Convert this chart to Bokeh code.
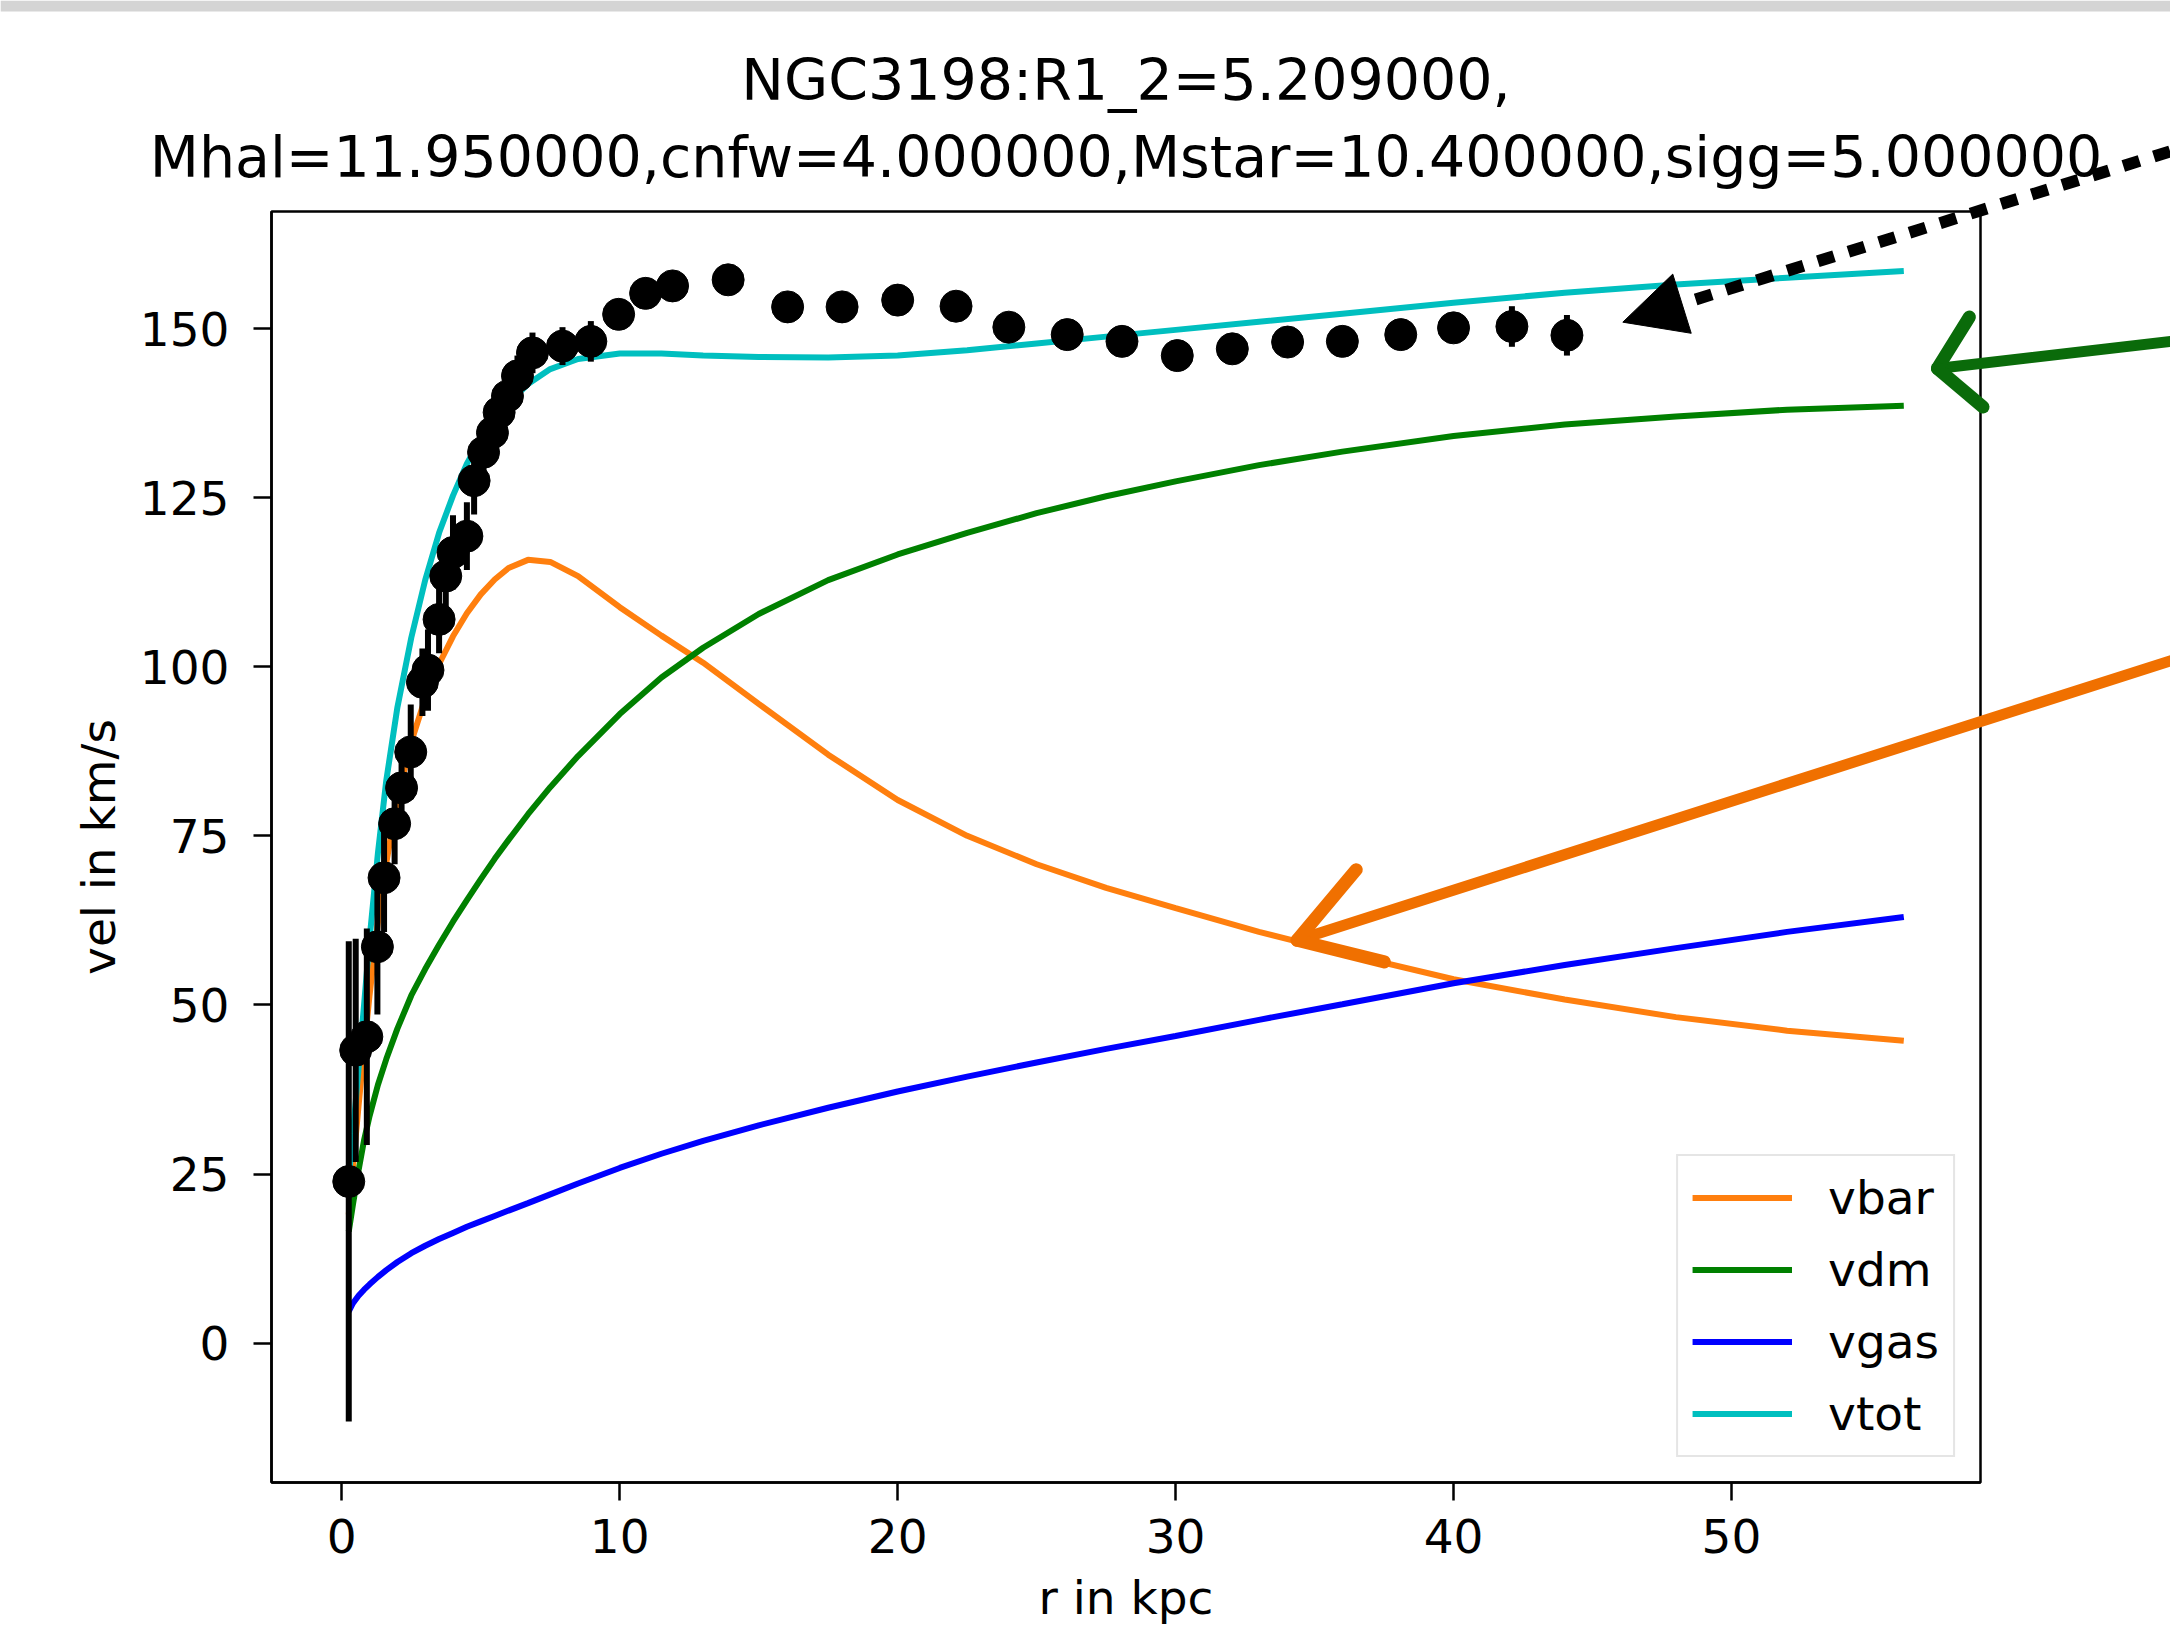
from bokeh.plotting import figure
from bokeh.layouts import column
from bokeh.models import (ColumnDataSource, Range1d, FixedTicker, Arrow, NormalHead,
                          Title, BoxAnnotation)
from bokeh.embed import file_html
from bokeh.resources import INLINE

# ---------------- data ----------------
r_model = [0.25, 0.4, 0.6, 0.8, 1.0, 1.3, 1.6, 2.0, 2.5, 3.0, 3.5, 4.0, 4.5, 5.0,
           5.5, 6.0, 6.7, 7.5, 8.5, 10.0, 11.5, 13.0, 15.0, 17.5, 20.0, 22.5, 25.0,
           27.5, 30.0, 33.0, 36.0, 40.0, 44.0, 48.0, 52.0, 56.2]
vbar = [19.0, 26.0, 35.0, 43.5, 51.5, 62.2, 71.0, 80.5, 88.9, 95.3, 100.4, 104.5,
        107.9, 110.7, 112.9, 114.6, 115.8, 115.5, 113.4, 108.8, 104.6, 100.6, 94.5,
        87.0, 80.3, 75.0, 70.8, 67.3, 64.3, 60.8, 57.7, 53.8, 50.8, 48.2, 46.2, 44.7]
vdm = [16.5, 20.5, 25.5, 30.0, 33.6, 38.2, 42.0, 46.5, 51.4, 55.3, 58.9, 62.3,
       65.5, 68.6, 71.6, 74.4, 78.2, 82.2, 86.8, 93.0, 98.4, 102.8, 107.8, 112.8,
       116.6, 119.8, 122.7, 125.2, 127.4, 129.8, 131.8, 134.1, 135.8, 137.0, 138.0, 138.6]
vgas = [4.7, 5.9, 7.0, 7.9, 8.7, 9.8, 10.8, 12.0, 13.3, 14.4, 15.4, 16.3, 17.2,
        18.0, 18.8, 19.6, 20.7, 22.0, 23.6, 25.9, 28.0, 29.9, 32.2, 34.8, 37.2,
        39.4, 41.5, 43.5, 45.4, 47.8, 50.1, 53.2, 55.9, 58.4, 60.8, 63.0]
vtot = [24.5, 31.0, 40.5, 50.0, 59.8, 72.5, 83.2, 94.0, 104.3, 112.8, 119.8, 125.3,
        130.0, 133.7, 136.7, 139.0, 141.8, 144.0, 145.5, 146.3, 146.3, 146.0, 145.8,
        145.7, 146.0, 146.8, 147.8, 148.8, 149.8, 151.0, 152.2, 153.8, 155.3, 156.5,
        157.5, 158.5]

r_obs = [0.25, 0.5, 0.9, 1.28, 1.52, 1.9, 2.15, 2.48, 2.9, 3.1, 3.5, 3.74, 4.0,
         4.5, 4.76, 5.1, 5.42, 5.66, 5.96, 6.32, 6.86, 7.94, 8.96, 9.96, 10.93,
         11.9, 13.9, 16.04, 18.0, 20.0, 22.1, 24.0, 26.1, 28.07, 30.06, 32.04,
         34.03, 36.0, 38.1, 40.0, 42.1, 44.08]
v_obs = [23.9, 43.3, 45.3, 58.6, 68.8, 76.8, 82.1, 87.4, 97.7, 99.5, 107.0, 113.4,
         116.9, 119.3, 127.5, 131.7, 134.6, 137.6, 140.0, 143.0, 146.4, 147.4, 148.1,
         152.1, 155.2, 156.3, 157.2, 153.2, 153.2, 154.2, 153.3, 150.2, 149.1, 148.1,
         146.0, 147.0, 148.0, 148.1, 149.1, 150.1, 150.3, 149.0]
v_err = [35.5, 16.5, 16.0, 10.0, 8.0, 6.0, 7.0, 7.0, 5.0, 6.0, 5.0, 5.0, 5.5, 5.0,
         5.0, 4.0, 4.0, 4.0, 4.0, 3.0, 3.0, 2.8, 3.0, 2.0, 1.5, 1.5, 1.5, 1.5, 1.5,
         1.5, 1.5, 1.5, 1.5, 1.5, 1.5, 1.5, 1.5, 1.5, 1.5, 2.0, 3.0, 3.0]

x_ticks = [0, 10, 20, 30, 40, 50]
y_ticks = [0, 25, 50, 75, 100, 125, 150]

title_line1 = "NGC3198:R1_2=5.209000,"
title_line2 = "Mhal=11.950000,cnfw=4.000000,Mstar=10.400000,sigg=5.000000"

# annotation arrows drawn over the chart (geometry in data units)
black_arrow = (66.88, 177.6, 46.09, 150.94)
green_arrow = (66.88, 148.6, 57.41, 144.1)
green_barbs = [(58.56, 151.7), (59.05, 138.4)]
orange_arrow = (66.88, 102.3, 34.37, 59.57)
orange_barbs = [(36.5, 70.0), (37.51, 56.36)]

# ---------------- layout geometry ----------------
W, H = 2170, 1644
FL, FR, FT, FB = 271, 1980, 211, 1482          # frame edges on the canvas (px)
X0, X1 = -2.53, 58.96
Y0, Y1 = -20.6, 167.3
FONT = "DejaVu Sans"

p = figure(width=W, height=H, output_backend="svg", toolbar_location=None, title=None,
           x_range=Range1d(X0, X1), y_range=Range1d(Y0, Y1),
           min_border_left=FL, min_border_right=W - FR, min_border_top=FT,
           min_border_bottom=H - FB)

p.add_layout(Title(text=title_line2, align="center", text_font=FONT,
                   text_font_size="57px", text_font_style="normal",
                   text_color="#000000", standoff=43), "above")
p.add_layout(Title(text=title_line1, align="center", text_font=FONT,
                   text_font_size="57px", text_font_style="normal",
                   text_color="#000000", standoff=-25), "above")

p.xgrid.visible = False
p.ygrid.visible = False
p.outline_line_color = "black"
p.outline_line_width = 2.5
p.outline_line_alpha = 1.0

for ax in (p.xaxis[0], p.yaxis[0]):
    ax.axis_line_width = 2.5
    ax.major_tick_line_width = 2.5
    ax.major_tick_in = 0
    ax.major_tick_out = 18
    ax.minor_tick_line_color = None
    ax.major_label_text_font = FONT
    ax.major_label_text_font_size = "47px"
    ax.major_label_text_color = "#000000"
    ax.axis_label_text_font = FONT
    ax.axis_label_text_font_size = "47px"
    ax.axis_label_text_font_style = "normal"
    ax.axis_label_text_color = "#000000"

p.xaxis.ticker = FixedTicker(ticks=x_ticks)
p.yaxis.ticker = FixedTicker(ticks=y_ticks)
p.xaxis.axis_label = "r in kpc"
p.yaxis.axis_label = "vel in km/s"
p.xaxis.major_label_standoff = 18
p.xaxis.axis_label_standoff = 14
p.yaxis.major_label_standoff = 24
p.yaxis.axis_label_standoff = 11

model = ColumnDataSource(dict(r=r_model, vbar=vbar, vdm=vdm, vgas=vgas, vtot=vtot))
p.line("r", "vbar", source=model, line_color="#ff7f0e", line_width=6, legend_label="vbar")
p.line("r", "vdm", source=model, line_color="#008000", line_width=6, legend_label="vdm")
p.line("r", "vgas", source=model, line_color="#0000ff", line_width=6, legend_label="vgas")
p.line("r", "vtot", source=model, line_color="#00bfbf", line_width=6, legend_label="vtot")

obs = ColumnDataSource(dict(r=r_obs, v=v_obs,
                            lo=[v - e for v, e in zip(v_obs, v_err)],
                            hi=[v + e for v, e in zip(v_obs, v_err)]))
p.segment(x0="r", y0="lo", x1="r", y1="hi", source=obs, line_color="black", line_width=6)
p.scatter("r", "v", source=obs, size=32, fill_color="black", line_color="black")

leg = p.legend[0]
leg.location = "bottom_right"
leg.margin = 25
leg.padding = 14
leg.spacing = 17
leg.glyph_width = 100
leg.glyph_height = 55
leg.label_standoff = 36
leg.label_text_font = FONT
leg.label_text_font_size = "47px"
leg.label_text_color = "#000000"
leg.border_line_color = "#cccccc"
leg.border_line_width = 2
leg.background_fill_alpha = 0.8

# ---------------- transparent overlay covering the whole canvas ----------------
ppx = (FR - FL) / (X1 - X0)      # px per kpc
ppy = (FB - FT) / (Y1 - Y0)      # px per km/s
q = figure(width=W, height=H, output_backend="svg", toolbar_location=None, title=None,
           x_axis_location=None, y_axis_location=None, min_border=0,
           x_range=Range1d(X0 - FL / ppx, X0 + (W - FL) / ppx),
           y_range=Range1d(Y1 - (H - FT) / ppy, Y1 + FT / ppy))
q.grid.visible = False
q.outline_line_color = None
q.background_fill_color = None
q.border_fill_color = None
q.styles = {"position": "absolute", "top": "0px", "left": "0px"}
for fig in (p, q):
    try:
        fig.frame_align = False
    except AttributeError:
        pass

# light grey band at the very top of the page
q.add_layout(BoxAnnotation(top=Y1 + FT / ppy, bottom=Y1 + (FT - 11) / ppy,
                           fill_color="#d4d4d4", fill_alpha=1.0, line_color=None))

x0, y0, x1, y1 = black_arrow
q.add_layout(Arrow(end=NormalHead(size=62, fill_color="black", line_color="black"),
                   x_start=x0, y_start=y0, x_end=x1, y_end=y1,
                   line_color="black", line_width=12, line_dash="17 15"))

for (ax0, ay0, ax1, ay1), barbs, col in ((green_arrow, green_barbs, "#0a6b0a"),
                                         (orange_arrow, orange_barbs, "#f07000")):
    q.add_layout(Arrow(end=None, x_start=ax0, y_start=ay0, x_end=ax1, y_end=ay1,
                       line_color=col, line_width=11, line_cap="round"))
    for bx, by in barbs:
        q.add_layout(Arrow(end=None, x_start=ax1, y_start=ay1, x_end=bx, y_end=by,
                           line_color=col, line_width=13, line_cap="round"))

root = column(p, q)
open("out.html", "w").write(file_html(root, INLINE))
